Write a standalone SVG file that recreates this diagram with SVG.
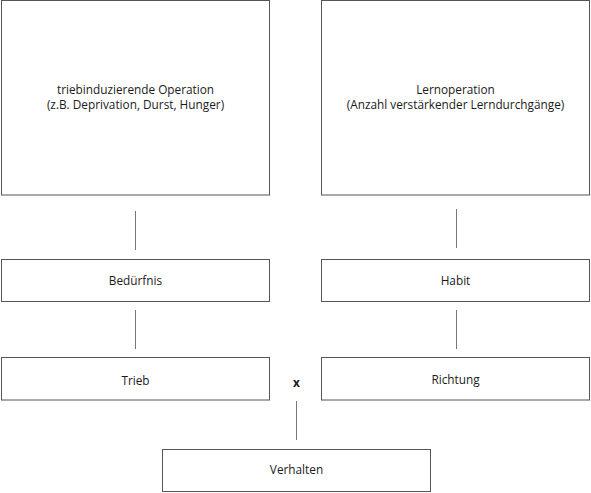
<svg xmlns="http://www.w3.org/2000/svg" width="591" height="493" viewBox="0 0 591 493">
<style>
.box{fill:#fff;stroke:#555;stroke-width:1}
.t{font-family:"Open Sans","Liberation Sans",sans-serif;font-size:11.8px;fill:#1a1a1a;text-anchor:middle}
.c{stroke:#777;stroke-width:1;fill:none}
</style>
<rect width="591" height="493" fill="#fff"/>
<g id="op1"><rect class="box" x="1.5" y="0.5" width="268" height="194.5"/>
<text class="t" x="135.5" y="94">triebinduzierende Operation</text>
<text class="t" x="135.5" y="109">(z.B. Deprivation, Durst, Hunger)</text></g>
<g id="op2"><rect class="box" x="321.5" y="0.5" width="268" height="194.5"/>
<text class="t" x="455.5" y="94">Lernoperation</text>
<text class="t" x="455.5" y="109">(Anzahl verstärkender Lerndurchgänge)</text></g>
<g id="beduerfnis"><rect class="box" x="1.5" y="259.5" width="268" height="42"/>
<text class="t" x="135.5" y="285">Bedürfnis</text></g>
<g id="habit"><rect class="box" x="321.5" y="259.5" width="268" height="42"/>
<text class="t" x="455.5" y="285">Habit</text></g>
<g id="trieb"><rect class="box" x="1.5" y="357.5" width="268" height="42.5"/>
<text class="t" x="135.5" y="385">Trieb</text></g>
<g id="richtung"><rect class="box" x="321.5" y="357.5" width="268" height="42.5"/>
<text class="t" x="455.5" y="384">Richtung</text></g>
<g id="verhalten"><rect class="box" x="162.5" y="449.5" width="268" height="42"/>
<text class="t" x="296.5" y="474">Verhalten</text></g>
<g id="mult"><text class="t" x="296.5" y="387" style="font-weight:bold">x</text></g>
<g id="connectors">
<line class="c" x1="135.5" y1="211" x2="135.5" y2="250"/>
<line class="c" x1="135.5" y1="310" x2="135.5" y2="349"/>
<line class="c" x1="456.5" y1="209" x2="456.5" y2="248"/>
<line class="c" x1="456.5" y1="310" x2="456.5" y2="349"/>
<line class="c" x1="296.5" y1="401" x2="296.5" y2="440"/>
</g>
</svg>
